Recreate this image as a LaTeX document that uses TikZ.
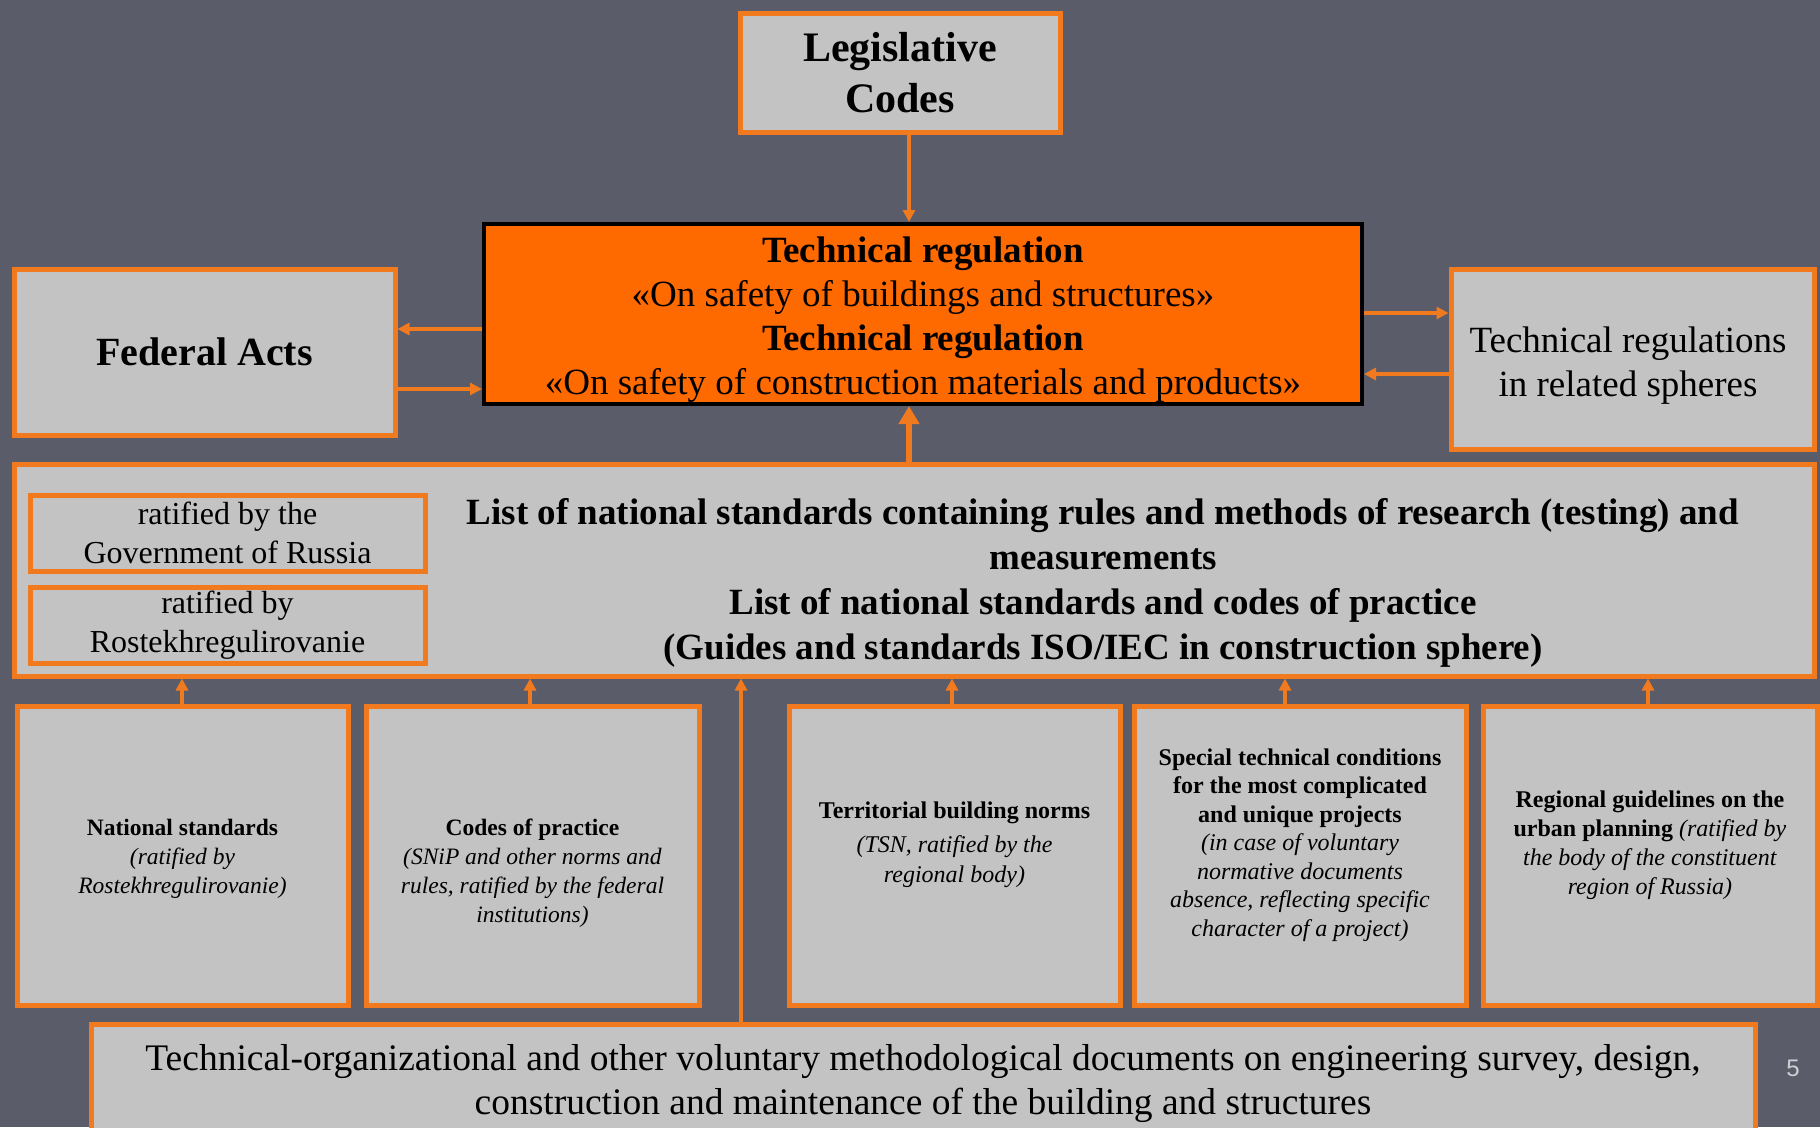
\documentclass[tikz,border=0pt]{standalone}
\usepackage{fontspec}
\setmainfont{Liberation Serif}
\newfontfamily\pagenumfont{Liberation Sans}
\usetikzlibrary{arrows.meta,calc}
\newcommand{\setfs}[2]{\fontsize{#1}{#2}\selectfont}
\definecolor{bgslate}{HTML}{5A5C6A}
\definecolor{boxgray}{HTML}{C3C3C3}
\definecolor{edgeorange}{HTML}{F27A1E}
\definecolor{mainorange}{HTML}{FF6A00}
\definecolor{pagegray}{HTML}{CFCFD4}
\tikzset{
  graybox/.style={draw=edgeorange, fill=boxgray, line width=5pt, inner sep=0pt, align=center, text=black},
  mainbox/.style={draw=black, fill=mainorange, line width=4pt, inner sep=0pt, align=center, text=black},
  txt/.style={inner sep=0pt, align=center, text=black},
  arr/.style={draw=edgeorange, line width=4pt, -{Triangle[length=12pt,width=12pt]}},
  bigarr/.style={draw=edgeorange, line width=6pt, -{Triangle[length=18pt,width=20pt]}},
}
\begin{document}
\begin{tikzpicture}[x=1pt,y=-1pt]
\useasboundingbox (0,0) rectangle (1820,1127);
\fill[bgslate] (0,0) rectangle (1820,1127);

% top row
\node[graybox, minimum width=320pt, minimum height=119pt, font={\setfs{42}{51}\bfseries}] (leg) at (900,73)
  {Legislative\\Codes};
\node[mainbox, minimum width=878pt, minimum height=180pt] (treg) at (923,314) {};
\node[txt, font={\setfs{37}{44}}] (tregtxt) at (923,320)
  {\textbf{Technical regulation}\\«On safety of buildings and structures»\\\textbf{Technical regulation}\\«On safety of construction materials and products»};
\node[graybox, minimum width=381pt, minimum height=166pt, font={\setfs{40}{48}\bfseries}] (fed) at (204.5,352)
  {Federal Acts};
\node[graybox, minimum width=363pt, minimum height=180pt] (rel) at (1632.5,359) {};
\node[txt, font={\setfs{37}{44}}] (reltxt) at (1628,366)
  {Technical regulations\\in related spheres};

% list box
\node[graybox, minimum width=1800pt, minimum height=212pt] (list) at (914,570) {};
\node[txt, font={\setfs{37}{45}\bfseries}] (listtxt) at (1103,583)
  {List of national standards containing rules and methods of research (testing) and\\measurements\\List of national standards and codes of practice\\(Guides and standards ISO/IEC in construction sphere)};
\node[graybox, minimum width=395pt, minimum height=76pt, font={\setfs{32}{39}}] (rgov) at (227.5,533)
  {ratified by the\\Government of Russia};
\node[graybox, minimum width=395pt, minimum height=76pt, font={\setfs{32}{39}}] (rros) at (227.5,625)
  {ratified by\\Rostekhregulirovanie};

% bottom boxes
\node[graybox, minimum width=331pt, minimum height=299pt] (b1) at (182.5,855.5) {};
\node[graybox, minimum width=333pt, minimum height=299pt] (b2) at (532.5,855.5) {};
\node[graybox, minimum width=331pt, minimum height=299pt] (b3) at (954.5,855.5) {};
\node[graybox, minimum width=332pt, minimum height=299pt] (b4) at (1300,855.5) {};
\node[graybox, minimum width=334pt, minimum height=299pt] (b5) at (1650,855.5) {};

\node[txt, font={\setfs{23.5}{29}}] (t1) at (182.5,859)
  {\textbf{National standards}\\\textit{(ratified by}\\\textit{Rostekhregulirovanie)}};
\node[txt, font={\setfs{23.5}{29}}] (t2) at (532.5,873)
  {\textbf{Codes of practice}\\\textit{(SNiP and other norms and}\\\textit{rules, ratified by the federal}\\\textit{institutions)}};
\node[txt, font={\setfs{24}{30}}] (t3) at (954.5,845)
  {\textbf{Territorial building norms}\\[4pt]\textit{(TSN, ratified by the}\\\textit{regional body)}};
\node[txt, font={\setfs{24}{28.5}}] (t4) at (1300,845)
  {\textbf{Special technical conditions}\\\textbf{for the most complicated}\\\textbf{and unique projects}\\\textit{(in case of voluntary}\\\textit{normative documents}\\\textit{absence, reflecting specific}\\\textit{character of a project)}};
\node[txt, font={\setfs{24}{29}}] (t5) at (1650,845)
  {\textbf{Regional guidelines on the}\\\textbf{urban planning} \textit{(ratified by}\\\textit{the body of the constituent}\\\textit{region of Russia)}};

% bottom wide box
\node[graybox, minimum width=1664pt, minimum height=116pt] (bot) at (923,1082) {};
\node[txt, font={\setfs{37.5}{44}}] (bottxt) at (923,1084)
  {Technical-organizational and other voluntary methodological documents on engineering survey, design,\\construction and maintenance of the building and structures};

\node[inner sep=0pt, text=pagegray, font={\pagenumfont\setfs{24}{28}}] (pnum) at (1793,1068) {5};

% connectors
\coordinate (vx) at (741,0);
\coordinate (cx) at (909,0);
\draw[arr] (leg.south -| cx) -- (treg.north -| cx);
\draw[bigarr] (list.north -| cx) -- (treg.south -| cx);
\draw[arr] ([yshift=-15pt]treg.west) -- ([yshift=-15pt]treg.west -| fed.east);
\draw[arr] ([yshift=-75pt]treg.west -| fed.east) -- ([yshift=-75pt]treg.west);
\draw[arr] ([yshift=1pt]treg.east) -- ([yshift=1pt]treg.east -| rel.west);
\draw[arr] ([yshift=-60pt]treg.east -| rel.west) -- ([yshift=-60pt]treg.east);
\draw[arr] ([xshift=-0.5pt]b1.north) -- ([xshift=-0.5pt]b1.north |- list.south);
\draw[arr] ([xshift=-2.5pt]b2.north) -- ([xshift=-2.5pt]b2.north |- list.south);
\draw[arr] ([xshift=-2.5pt]b3.north) -- ([xshift=-2.5pt]b3.north |- list.south);
\draw[arr] ([xshift=-15pt]b4.north) -- ([xshift=-15pt]b4.north |- list.south);
\draw[arr] ([xshift=-2pt]b5.north) -- ([xshift=-2pt]b5.north |- list.south);
\draw[arr] (bot.north -| vx) -- (list.south -| vx);
\end{tikzpicture}
\end{document}
